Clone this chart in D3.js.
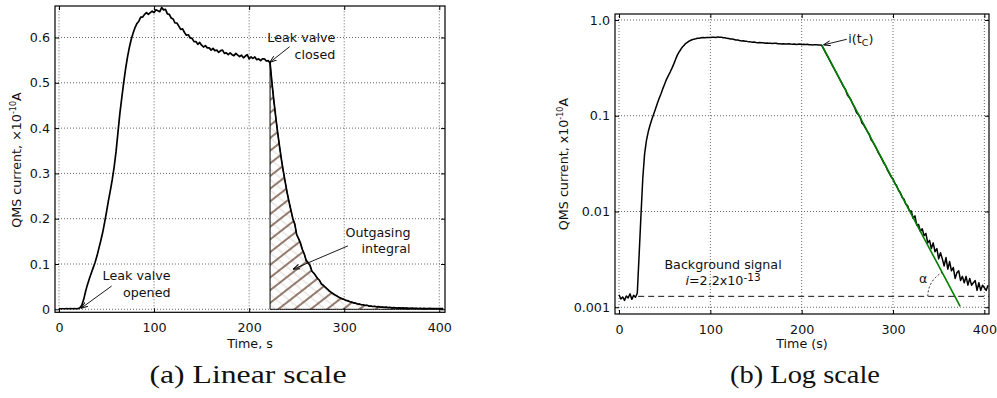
<!DOCTYPE html>
<html>
<head>
<meta charset="utf-8">
<script src="https://cdn.jsdelivr.net/npm/d3@7"></script>
<style>
body{margin:0;background:#fff}
svg{display:block}
text{font-family:"DejaVu Sans",sans-serif;fill:#111}
</style>
</head>
<body>
<svg width="997" height="398"></svg>
<script>
"use strict";

// time axis of the QMS trace, s
var timeS = [
	0,2,4,6,8,10,12,14,16,18,
	20,22,24,26,28,30,32,34,36,38,
	40,42,44,46,48,50,52,54,56,58,
	60,62,64,66,68,70,72,74,76,78,
	80,82,84,86,88,90,92,94,96,98,
	100,102,104,106,108,110,112,114,116,118,
	120,122,124,126,128,130,132,134,136,138,
	140,142,144,146,148,150,152,154,156,158,
	160,162,164,166,168,170,172,174,176,178,
	180,182,184,186,188,190,192,194,196,198,
	200,202,204,206,208,210,212,214,216,218,
	220,222,224,226,228,230,232,234,236,238,
	240,242,244,246,248,250,252,254,256,258,
	260,262,264,266,268,270,272,274,276,278,
	280,282,284,286,288,290,292,294,296,298,
	300,302,304,306,308,310,312,314,316,318,
	320,322,324,326,328,330,332,334,336,338,
	340,342,344,346,348,350,352,354,356,358,
	360,362,364,366,368,370,372,374,376,378,
	380,382,384,386,388,390,392,394,396,398,
	400,402,404
];

// QMS current, x1e-10 A (same trace in both panels)
var qmsCurrent = [
	0.00135,0.00122,0.00128,0.00118,0.00131,0.00125,0.00138,0.00121,0.00133,0.00127,
	0.00140,0.0035,0.009,0.022,0.040,0.055,0.068,0.080,0.092,0.104,
	0.118,0.135,0.152,0.170,0.192,0.215,0.240,0.262,0.286,0.314,
	0.348,0.390,0.432,0.466,0.500,0.530,0.556,0.578,0.596,0.610,
	0.622,0.631,0.636,0.645,0.645,0.651,0.655,0.651,0.655,0.658,
	0.655,0.661,0.659,0.657,0.666,0.661,0.662,0.652,0.651,0.643,
	0.641,0.632,0.632,0.625,0.618,0.619,0.611,0.605,0.606,0.599,
	0.598,0.591,0.591,0.585,0.589,0.583,0.579,0.582,0.577,0.577,
	0.572,0.576,0.571,0.572,0.567,0.571,0.572,0.565,0.566,0.562,
	0.566,0.562,0.560,0.565,0.561,0.558,0.561,0.555,0.559,0.562,
	0.553,0.557,0.554,0.557,0.551,0.553,0.549,0.553,0.553,0.548,
	0.549,0.544,0.500,0.460,0.424,0.390,0.359,0.330,0.304,0.280,
	0.257,0.237,0.218,0.200,0.188,0.165,0.156,0.146,0.132,0.122,
	0.108,0.103,0.097,0.084,0.080,0.074,0.068,0.064,0.056,0.053,
	0.049,0.045,0.041,0.038,0.035,0.032,0.030,0.027,0.025,0.023,
	0.0218,0.0196,0.0186,0.0167,0.0158,0.0140,0.0135,0.0119,0.0115,0.0101,
	0.0101,0.0085,0.0090,0.0072,0.0073,0.0062,0.0066,0.0056,0.0059,0.0047,
	0.0050,0.0041,0.0047,0.0038,0.0041,0.0032,0.0037,0.0032,0.0027,0.0033,
	0.0025,0.0030,0.0024,0.0026,0.0020,0.0023,0.0024,0.0019,0.0021,0.0018,
	0.0021,0.0017,0.0020,0.0017,0.0018,0.0019,0.0015,0.0018,0.0015,0.0017,
	0.0016,0.0015,0.0017
];

var timeTicks = [0,100,200,300,400];
var linTicks = [0,0.1,0.2,0.3,0.4,0.5,0.6];
var linTickLabels = ["0","0.1","0.2","0.3","0.4","0.5","0.6"];
var logTicks = [0.001,0.01,0.1,1];
var logTickLabels = ["0.001","0.01","0.1","1.0"];

var tValveOpen = 23;
var tValveClosed = 222;
var bgLevel = 0.0013;
var bgStart = 21;
var fitT = [222, 373.5];
var fitI = [0.548, 0.00102];

var trace = timeS.map(function(t,i){ return {t:t, v:qmsCurrent[i]}; });

var svg = d3.select("svg");
var defs = svg.append("defs");

// hatch for outgasing integral
defs.append("pattern").attr("id","hatchA")
	.attr("patternUnits","userSpaceOnUse").attr("width",10).attr("height",10)
	.attr("patternTransform","rotate(-38)")
	.append("line").attr("x1",0).attr("y1",5).attr("x2",10).attr("y2",5)
	.attr("stroke","#8d7466").attr("stroke-width",1.9);
defs.append("pattern").attr("id","hatchB")
	.attr("patternUnits","userSpaceOnUse").attr("width",8).attr("height",8)
	.attr("patternTransform","rotate(40)")
	.append("line").attr("x1",0).attr("y1",4).attr("x2",8).attr("y2",4)
	.attr("stroke","#d6cbc5").attr("stroke-width",0.8);

defs.append("marker").attr("id","arrowHead")
	.attr("viewBox","0 0 10 10").attr("refX",10).attr("refY",5)
	.attr("markerWidth",7).attr("markerHeight",7)
	.attr("markerUnits","userSpaceOnUse").attr("orient","auto")
	.append("path").attr("d","M0,1.5 L10,5 L0,8.5")
	.attr("fill","none").attr("stroke","#000").attr("stroke-width",1.3);

function grid(x, y, xt, yt){
	var g = svg.append("g");
	var x0 = x.range()[0], x1 = x.range()[1];
	var y0 = y.range()[0], y1 = y.range()[1];

	// dotted grid
	g.selectAll("line.gx").data(xt).enter().append("line")
		.attr("x1",function(d){return x(d);}).attr("x2",function(d){return x(d);})
		.attr("y1",y0).attr("y2",y1)
		.attr("stroke","#555").attr("stroke-width",0.9).attr("stroke-dasharray","1,2");
	g.selectAll("line.gy").data(yt).enter().append("line")
		.attr("x1",x0).attr("x2",x1)
		.attr("y1",function(d){return y(d);}).attr("y2",function(d){return y(d);})
		.attr("stroke","#555").attr("stroke-width",0.9).attr("stroke-dasharray","1,2");
	return g;
}

function axes(x, y, xt, yt, ylabels){
	var g = svg.append("g");
	var x0 = x.range()[0], x1 = x.range()[1];
	var y0 = y.range()[0], y1 = y.range()[1];

	g.append("g").attr("transform","translate(0,"+y0+")")
		.call(d3.axisBottom(x).tickValues(xt).tickSizeInner(-4).tickSizeOuter(0).tickPadding(10.5));
	g.append("g").attr("transform","translate(0,"+y1+")")
		.call(d3.axisTop(x).tickValues(xt).tickSizeInner(-4).tickSizeOuter(0).tickFormat(""));
	g.append("g").attr("transform","translate("+x0+",0)")
		.call(d3.axisLeft(y).tickValues(yt).tickSizeInner(-4).tickSizeOuter(0).tickPadding(5)
			.tickFormat(function(d,i){return ylabels[i];}));
	g.append("g").attr("transform","translate("+x1+",0)")
		.call(d3.axisRight(y).tickValues(yt).tickSizeInner(-4).tickSizeOuter(0).tickFormat(""));

	g.selectAll(".domain").remove();
	g.selectAll(".tick line").attr("stroke","#000").attr("stroke-width",1);
	g.selectAll(".tick text").attr("font-size","12.7px").attr("font-family","DejaVu Sans").attr("fill","#111");

	g.append("rect").attr("x",x0).attr("y",y1).attr("width",x1-x0).attr("height",y0-y1)
		.attr("fill","none").attr("stroke","#000").attr("stroke-width",1.2);
	return g;
}

function yLabel(x, cy, xsign){
	var t = svg.append("text").attr("transform","translate("+x+","+cy+") rotate(-90)")
		.attr("text-anchor","middle").attr("font-size","12.7px");
	t.append("tspan").text("QMS current, "+xsign+"10");
	t.append("tspan").attr("font-size","8px").attr("dy",-5).text("-10");
	t.append("tspan").attr("dy",5).text("A");
}

function note(g, lines, xp, yp, anchor){
	var t = g.append("text").attr("text-anchor",anchor).attr("font-size","12.7px");
	lines.forEach(function(s,i){
		t.append("tspan").attr("x",xp).attr("y",yp[i]).text(s);
	});
}

function arrow(g, xa, ya, xb, yb){
	g.append("line").attr("x1",xa).attr("y1",ya).attr("x2",xb).attr("y2",yb)
		.attr("stroke","#000").attr("stroke-width",0.9).attr("marker-end","url(#arrowHead)");
}

// ---------- (a) linear ----------
var xA = d3.scaleLinear().domain([-4.2,406]).range([55,445]);
var yA = d3.scaleLinear().domain([-0.0066,0.6695]).range([312.3,6]);

grid(xA, yA, timeTicks, linTicks);

var gA = svg.append("g");
defs.append("clipPath").attr("id","clipA").append("rect")
	.attr("x",55).attr("y",6).attr("width",390).attr("height",306.3);
gA.attr("clip-path","url(#clipA)");

var decay = trace.filter(function(d){return d.t >= tValveClosed;});
var hatchArea = d3.area()
	.x(function(d){return xA(d.t);})
	.y0(yA(0))
	.y1(function(d){return yA(d.v);});
gA.append("path").attr("d",hatchArea(decay)).attr("fill","#fff");
gA.append("path").attr("d",hatchArea(decay)).attr("fill","url(#hatchB)");
gA.append("path").attr("d",hatchArea(decay)).attr("fill","url(#hatchA)")
	.attr("stroke","#000").attr("stroke-width",1);

var lineA = d3.line().x(function(d){return xA(d.t);}).y(function(d){return yA(d.v);});
gA.append("path").attr("d",lineA(trace)).attr("fill","none")
	.attr("stroke","#000").attr("stroke-width",1.7).attr("stroke-linejoin","round");

var nA = svg.append("g");
note(nA, ["Leak valve","closed"], xA(290.6), [yA(0.5907), yA(0.552)], "end");
arrow(nA, xA(242.6), yA(0.5797), xA(tValveClosed-0.3), yA(0.545));
note(nA, ["Leak valve","opened"], xA(117.3), [yA(0.0647), yA(0.0265)], "end");
arrow(nA, xA(55.4), yA(0.0514), xA(tValveOpen), yA(0.002));
note(nA, ["Outgasing","integral"], xA(369.7), [yA(0.160), yA(0.125)], "end");
arrow(nA, xA(303.9), yA(0.140), xA(246.1), yA(0.0883));

axes(xA, yA, timeTicks, linTicks, linTickLabels);
yLabel(21, 160, "\u00d7");
svg.append("text").attr("x",250).attr("y",348).attr("text-anchor","middle")
	.attr("font-size","12.7px").text("Time, s");

// ---------- (b) log ----------
var xB = d3.scaleLinear().domain([-4.4,405.1]).range([615,989]);
var yB = d3.scaleLog().domain([0.00085,1.155]).range([314,14]);

grid(xB, yB, timeTicks, logTicks);

var gB = svg.append("g");
defs.append("clipPath").attr("id","clipB").append("rect")
	.attr("x",615).attr("y",14).attr("width",374).attr("height",300);
gB.attr("clip-path","url(#clipB)");

gB.append("line")
	.attr("x1",xB(bgStart)).attr("x2",xB(405.1))
	.attr("y1",yB(bgLevel)).attr("y2",yB(bgLevel))
	.attr("stroke","#111").attr("stroke-width",1).attr("stroke-dasharray","6,4");

var lineB = d3.line().x(function(d){return xB(d.t);}).y(function(d){return yB(d.v);});
gB.append("path").attr("d",lineB(trace)).attr("fill","none")
	.attr("stroke","#000").attr("stroke-width",1.5).attr("stroke-linejoin","round");

gB.append("line")
	.attr("x1",xB(fitT[0])).attr("y1",yB(fitI[0]))
	.attr("x2",xB(fitT[1])).attr("y2",yB(fitI[1]))
	.attr("stroke","#008000").attr("stroke-width",1.6);

// angle between fit and background level
var fitFrac = (Math.log(bgLevel)-Math.log(fitI[0]))/(Math.log(fitI[1])-Math.log(fitI[0]));
var tCross = fitT[0] + fitFrac*(fitT[1]-fitT[0]);
var cx = xB(tCross), cy = yB(bgLevel);
var fdx = xB(fitT[0])-xB(fitT[1]), fdy = yB(fitI[0])-yB(fitI[1]);
var ang = Math.atan2(fdy, fdx);
if (ang < 0) ang += 2*Math.PI;
var rArc = 27;
var arcPts = d3.range(0, 21).map(function(k){
	var a = Math.PI + (ang-Math.PI)*k/20;
	return [cx + rArc*Math.cos(a), cy + rArc*Math.sin(a)];
});
gB.append("path").attr("d",d3.line()(arcPts)).attr("fill","none")
	.attr("stroke","#111").attr("stroke-width",0.9).attr("stroke-dasharray","2,2");

var nB = svg.append("g");
var tc = nB.append("text").attr("x",xB(251.1)).attr("y",yB(0.582)).attr("font-size","12.7px");
tc.append("tspan").text("i(t");
tc.append("tspan").attr("font-size","9.5px").attr("dy",3).text("C");
tc.append("tspan").attr("dy",-3).text(")");
arrow(nB, xB(249.4), yB(0.629), xB(223.8), yB(0.549));

nB.append("text").attr("x",xB(113.9)).attr("y",yB(0.0025)).attr("text-anchor","middle")
	.attr("font-size","12.7px").text("Background signal");
var bt = nB.append("text").attr("x",xB(113.9)).attr("y",yB(0.00171)).attr("text-anchor","middle")
	.attr("font-size","12.7px");
bt.append("tspan").attr("font-style","italic").text("i");
bt.append("tspan").text("=2.2x10");
bt.append("tspan").attr("font-size","10.5px").attr("dy",-4).text("-13");

nB.append("text").attr("x",xB(333)).attr("y",yB(0.0018)).attr("text-anchor","middle")
	.attr("font-size","12.7px").text("\u03b1");

axes(xB, yB, timeTicks, logTicks, logTickLabels);
yLabel(568, 164, "x");
svg.append("text").attr("x",802).attr("y",348).attr("text-anchor","middle")
	.attr("font-size","12.7px").text("Time (s)");

// captions
svg.append("text").attr("x",248).attr("y",383).attr("text-anchor","middle")
	.style("font-family","'Liberation Serif',serif").attr("font-size","26px")
	.attr("textLength",197).attr("lengthAdjust","spacingAndGlyphs").text("(a) Linear scale");
svg.append("text").attr("x",805).attr("y",383).attr("text-anchor","middle")
	.style("font-family","'Liberation Serif',serif").attr("font-size","26px")
	.attr("textLength",150).attr("lengthAdjust","spacingAndGlyphs").text("(b) Log scale");
</script>
</body>
</html>
